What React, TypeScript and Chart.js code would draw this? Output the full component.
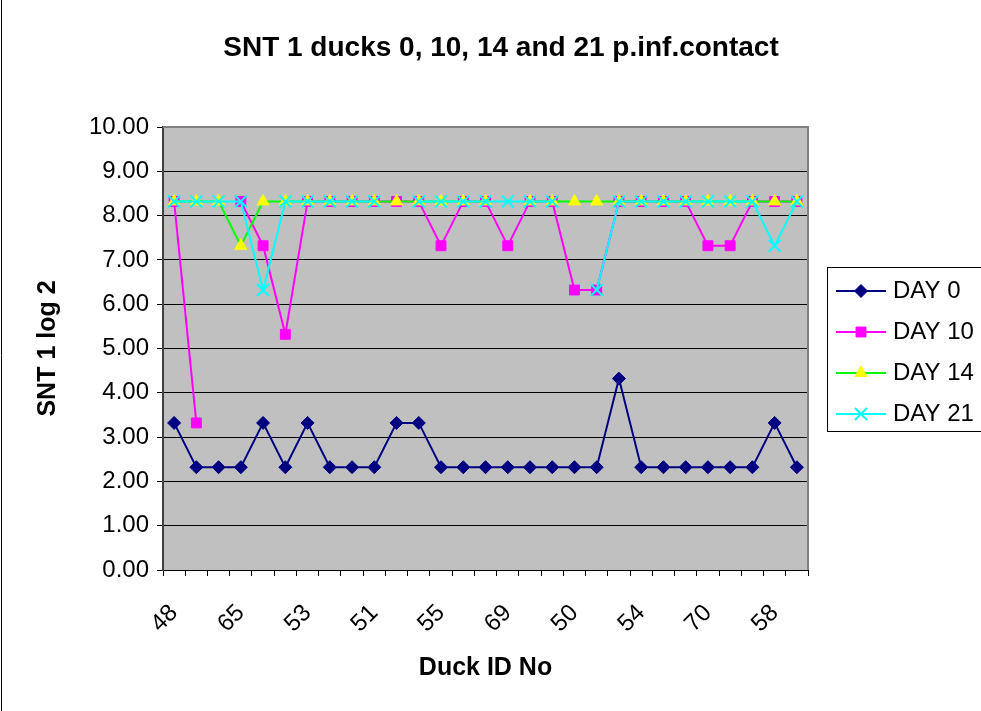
import React, { useEffect, useRef } from 'react';
import { Chart, registerables } from 'chart.js';
import { drawPoint } from 'chart.js/helpers';

Chart.register(...registerables);

// Duck IDs: only every third label is printed on the reference axis; the others are not shown.
const duckIds = ['48', '', '', '65', '', '', '53', '', '', '51', '', '', '55', '', '', '69', '', '', '50', '', '', '54', '', '', '70', '', '', '58', ''];

const day0 = [3.32, 2.32, 2.32, 2.32, 3.32, 2.32, 3.32, 2.32, 2.32, 2.32, 3.32, 3.32, 2.32, 2.32, 2.32, 2.32, 2.32, 2.32, 2.32, 2.32, 4.32, 2.32, 2.32, 2.32, 2.32, 2.32, 2.32, 3.32, 2.32];
const day10 = [8.32, 3.32, null, 8.32, 7.32, 5.32, 8.32, 8.32, 8.32, 8.32, 8.32, 8.32, 7.32, 8.32, 8.32, 7.32, 8.32, 8.32, 6.32, 6.32, 8.32, 8.32, 8.32, 8.32, 7.32, 7.32, 8.32, 8.32, 8.32];
const day14 = [8.32, 8.32, 8.32, 7.32, 8.32, 8.32, 8.32, 8.32, 8.32, 8.32, 8.32, 8.32, 8.32, 8.32, 8.32, null, 8.32, 8.32, 8.32, 8.32, 8.32, 8.32, 8.32, 8.32, 8.32, 8.32, 8.32, 8.32, 8.32];
const day21 = [8.32, 8.32, 8.32, 8.32, 6.32, 8.32, 8.32, 8.32, 8.32, 8.32, null, 8.32, 8.32, 8.32, 8.32, 8.32, 8.32, 8.32, null, 6.32, 8.32, 8.32, 8.32, 8.32, 8.32, 8.32, 8.32, 7.32, 8.32];

const yMin = 0;
const yMax = 10;
const yStep = 1;

const FONT = '"Liberation Sans", Arial, sans-serif';

const framePlugin = {
  id: 'frame',
  beforeDraw(chart: any) {
    const { ctx, chartArea: a } = chart;
    ctx.save();
    ctx.fillStyle = '#ffffff';
    ctx.fillRect(0, 0, chart.width, chart.height);
    ctx.fillStyle = '#C0C0C0';
    ctx.fillRect(a.left, a.top, a.right - a.left, a.bottom - a.top);
    ctx.strokeStyle = '#000';
    ctx.lineWidth = 1;
    ctx.beginPath();
    ctx.moveTo(1.5, 0);
    ctx.lineTo(1.5, chart.height);
    ctx.stroke();
    ctx.restore();
  },
  beforeDatasetsDraw(chart: any) {
    const { ctx, chartArea: a } = chart;
    ctx.save();
    ctx.strokeStyle = '#808080';
    ctx.lineWidth = 2;
    ctx.beginPath();
    ctx.moveTo(a.left, a.top);
    ctx.lineTo(a.right, a.top);
    ctx.lineTo(a.right, a.bottom);
    ctx.stroke();
    ctx.restore();
  },
  afterDraw(chart: any) {
    const { ctx, chartArea: a } = chart;
    const lx = a.right + 19;
    const ly = 267;
    ctx.save();
    ctx.strokeStyle = '#000';
    ctx.lineWidth = 1;
    ctx.strokeRect(lx + 0.5, ly + 0.5, 200, 164);
    chart.data.datasets.forEach((ds: any, i: number) => {
      const y = ly + 24 + i * 41;
      ctx.strokeStyle = ds.borderColor;
      ctx.lineWidth = 2;
      ctx.beginPath();
      ctx.moveTo(lx + 9, y);
      ctx.lineTo(lx + 59, y);
      ctx.stroke();
      ctx.fillStyle = ds.pointBackgroundColor;
      ctx.strokeStyle = ds.pointBorderColor;
      ctx.lineWidth = ds.pointBorderWidth;
      drawPoint(ctx, { pointStyle: ds.pointStyle, radius: ds.pointRadius, borderWidth: ds.pointBorderWidth, rotation: 0 } as any, lx + 34, y);
      ctx.fillStyle = '#000';
      ctx.font = `24px ${FONT}`;
      ctx.textBaseline = 'middle';
      ctx.textAlign = 'left';
      ctx.fillText(ds.label, lx + 66, y);
    });
    ctx.restore();
  },
};

export default function App() {
  const ref = useRef<HTMLCanvasElement | null>(null);

  useEffect(() => {
    if (!ref.current) return;
    const chart = new Chart(ref.current, {
      type: 'line',
      data: {
        labels: duckIds,
        datasets: [
          {
            label: 'DAY 0', data: day0, order: 3,
            borderColor: '#000080', backgroundColor: '#000080',
            pointBackgroundColor: '#000080', pointBorderColor: '#000080', pointBorderWidth: 1,
            pointStyle: 'rectRot', pointRadius: 6.5, borderWidth: 2, tension: 0, spanGaps: false,
          },
          {
            label: 'DAY 10', data: day10, order: 2,
            borderColor: '#FF00FF', backgroundColor: '#FF00FF',
            pointBackgroundColor: '#FF00FF', pointBorderColor: '#FF00FF', pointBorderWidth: 1,
            pointStyle: 'rect', pointRadius: 7, borderWidth: 2, tension: 0, spanGaps: false,
          },
          {
            label: 'DAY 14', data: day14, order: 1,
            borderColor: '#00FF00', backgroundColor: '#FFFF00',
            pointBackgroundColor: '#FFFF00', pointBorderColor: '#FFFF00', pointBorderWidth: 1,
            pointStyle: 'triangle', pointRadius: 7, borderWidth: 2, tension: 0, spanGaps: false,
          },
          {
            label: 'DAY 21', data: day21, order: 0,
            borderColor: '#00FFFF', backgroundColor: '#00FFFF',
            pointBackgroundColor: '#00FFFF', pointBorderColor: '#00FFFF', pointBorderWidth: 2,
            pointStyle: 'crossRot', pointRadius: 8.5, borderWidth: 2, tension: 0, spanGaps: false,
          },
        ] as any,
      },
      options: {
        responsive: false,
        animation: false,
        events: [],
        layout: { padding: { left: 0, right: 0, top: 0, bottom: 0 } },
        plugins: {
          legend: { display: false },
          tooltip: { enabled: false },
          title: {
            display: true,
            text: 'SNT 1 ducks 0, 10, 14 and 21 p.inf.contact',
            color: '#000',
            font: { family: FONT, size: 28, weight: 'bold' },
            padding: { top: 31, bottom: 62.4 },
          },
        },
        scales: {
          x: {
            type: 'category',
            offset: true,
            grid: { display: true, drawOnChartArea: false, drawTicks: true, tickLength: 6, tickColor: '#000', offset: true },
            border: { display: true, color: '#000', width: 1 },
            ticks: { autoSkip: false, minRotation: 45, maxRotation: 45, padding: 23, color: '#000', font: { family: FONT, size: 24 } },
            title: { display: true, text: 'Duck ID No', color: '#000', font: { family: FONT, size: 25, weight: 'bold' }, padding: { top: 0, bottom: 28 } },
            afterFit: (s: any) => { s.height = 141; },
          },
          y: {
            min: yMin,
            max: yMax,
            ticks: { stepSize: yStep, padding: 8, color: '#000', font: { family: FONT, size: 24 }, callback: (v: any) => Number(v).toFixed(2) },
            grid: { color: '#000', lineWidth: 1, tickLength: 6, tickColor: '#000' },
            border: { display: true, color: '#404040', width: 2 },
            title: { display: true, text: 'SNT 1 log 2', color: '#000', font: { family: FONT, size: 25, weight: 'bold' }, padding: { top: 33, bottom: 0 } },
            afterFit: (s: any) => { s.width = 163; },
          },
          legendSpace: {
            type: 'linear',
            position: 'right',
            display: true,
            min: yMin,
            max: yMax,
            grid: { display: false, drawOnChartArea: false, drawTicks: false },
            border: { display: false },
            ticks: { display: false },
            title: { display: false },
            afterFit: (s: any) => { s.width = 194; },
          },
        },
      } as any,
      plugins: [framePlugin],
    });
    return () => chart.destroy();
  }, []);

  return (
    <div style={{ position: 'absolute', left: 0, top: 0, width: 981, height: 711, overflow: 'hidden', background: '#fff' }}>
      <canvas ref={ref} width={1002} height={711} style={{ width: 1002, height: 711, display: 'block' }} />
    </div>
  );
}
